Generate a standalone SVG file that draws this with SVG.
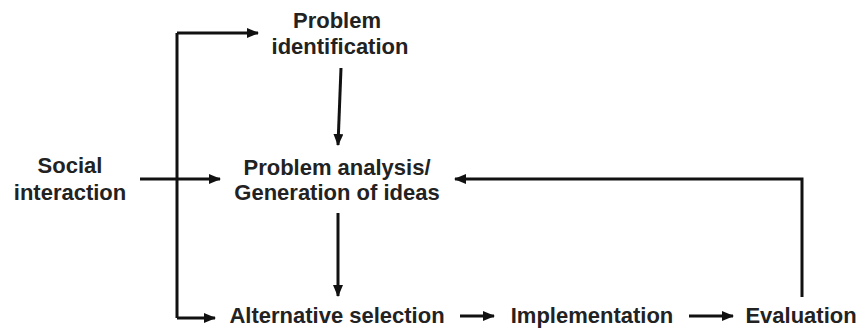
<svg xmlns="http://www.w3.org/2000/svg" width="860" height="331" viewBox="0 0 860 331">
<style>
text{font-family:"Liberation Sans",Arial,sans-serif;font-weight:bold;font-size:22px;fill:#222;text-anchor:middle}
.c{fill:none;stroke:#111;stroke-width:3;marker-end:url(#ah)}
.n{fill:none;stroke:#111;stroke-width:3}
</style>
<defs>
<marker id="ah" markerUnits="userSpaceOnUse" markerWidth="12" markerHeight="10" refX="11" refY="5" orient="auto">
<path d="M0,0 L12,5 L0,10 Z" fill="#111"/>
</marker>
</defs>
<rect width="860" height="331" fill="#fff"/>
<g id="connectors">
<path class="n" d="M177,33 V318"/>
<path class="c" d="M177,33 H258"/>
<path class="c" d="M177,318 H215"/>
<path class="c" d="M140,179 H220"/>
<path class="c" d="M341,68 L338,145"/>
<path class="c" d="M338,213 V296"/>
<path class="c" d="M802,297 V179 H455"/>
<path class="c" d="M460,316 H494"/>
<path class="c" d="M689,316 H733"/>
</g>
<g id="problem-identification"><text x="337" y="28">Problem</text><text x="340" y="54">identification</text></g>
<g id="social-interaction"><text x="70" y="173">Social</text><text x="70" y="200">interaction</text></g>
<g id="problem-analysis"><text x="337" y="175">Problem analysis/</text><text x="337" y="200">Generation of ideas</text></g>
<g id="alternative-selection"><text x="337" y="323">Alternative selection</text></g>
<g id="implementation"><text x="592" y="323">Implementation</text></g>
<g id="evaluation"><text x="801" y="323">Evaluation</text></g>
</svg>
